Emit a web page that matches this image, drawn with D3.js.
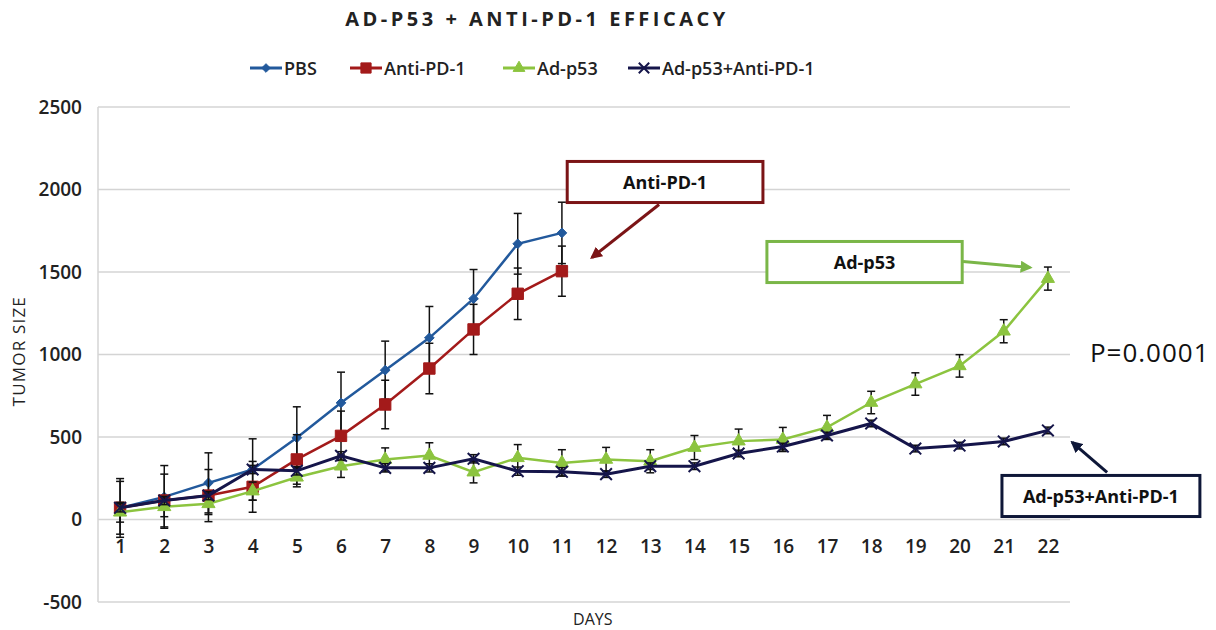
<!DOCTYPE html>
<html>
<head>
<meta charset="utf-8">
<script src="https://cdn.jsdelivr.net/npm/d3@7"></script>
<style>
  html, body { margin: 0; padding: 0; background: #fff; }
  svg { display: block; font-family: "Open Sans", sans-serif; }
</style>
</head>
<body>
<div id="chart"></div>
<script>
// Data
const days = d3.range(1, 23);
const yTicks = [-500, 0, 500, 1000, 1500, 2000, 2500];

const pbs = [70, 137, 222, 303, 495, 707, 905, 1101, 1338, 1671, 1737];
const pbsErr = [178, 190, 182, 186, 188, 186, 176, 190, 177, 184, 186];
const antiPD1 = [71, 115, 145, 198, 364, 507, 697, 915, 1152, 1368, 1505];
const antiErr = [160, 160, 158, 154, 150, 150, 147, 153, 152, 156, 152];
const adp53 = [44, 77, 95, 172, 256, 323, 364, 388, 287, 374, 343, 364, 353, 436, 475, 485, 558, 709, 821, 931, 1141, 1460];
const adp53Err = [60, 60, 65, 55, 58, 68, 70, 77, 65, 80, 80, 73, 70, 73, 73, 73, 73, 68, 68, 68, 70, 70];
const combo = [71, 115, 145, 303, 295, 386, 313, 313, 368, 293, 289, 275, 323, 323, 400, 442, 509, 582, 430, 448, 473, 540];
const comboErr = [25, 25, 25, 25, 25, 25, 25, 25, 25, 25, 25, 20, 20, 20, 20, 20, 20, 20, 20, 20, 20, 20];

const seriesNames = ["PBS", "Anti-PD-1", "Ad-p53", "Ad-p53+Anti-PD-1"];

// callout boxes, in day / tumor-size units
const callouts = [
  { label: "Anti-PD-1", box: [11.12, 15.55, 2170, 1921], from: [13.2, 1909], to: [11.68, 1588], color: "#7b1416" },
  { label: "Ad-p53", box: [15.64, 20.06, 1685, 1436], from: [20.08, 1564], to: [21.6, 1527], color: "#7ab648" },
  { label: "Ad-p53+Anti-PD-1", box: [20.96, 25.44, 267, 18], from: [23.34, 285], to: [22.55, 468], color: "#0e1738" }
];

const width = 1216, height = 630;
const margin = { left: 98, right: 146, top: 107, bottom: 28 };

const svg = d3.select("#chart").append("svg")
  .attr("width", width)
  .attr("height", height);

const x = d3.scaleLinear().domain([0.5, 22.5]).range([margin.left, width - margin.right]);
const y = d3.scaleLinear().domain([-500, 2500]).range([height - margin.bottom, margin.top]);

// gridlines
svg.append("g")
  .selectAll("line")
  .data(yTicks)
  .join("line")
  .attr("x1", x(0.5)).attr("x2", x(22.5))
  .attr("y1", d => y(d)).attr("y2", d => y(d))
  .attr("stroke", "#d4d4d4")
  .attr("stroke-width", 1.5);

svg.append("line")
  .attr("x1", x(0.5)).attr("x2", x(0.5))
  .attr("y1", y(2500)).attr("y2", y(-500))
  .attr("stroke", "#d4d4d4")
  .attr("stroke-width", 1.5);

// y axis
const yAxis = svg.append("g")
  .attr("transform", `translate(${x(0.5) - 16},0)`)
  .call(d3.axisLeft(y).tickValues(yTicks).tickFormat(d => String(d)).tickSize(0).tickPadding(0));
yAxis.select(".domain").remove();
yAxis.selectAll("text")
  .attr("font-size", 19)
  .attr("font-weight", 600)
  .attr("fill", "#222")
  .attr("font-family", "'Open Sans', sans-serif");

// x axis labels sit just under the zero line
const xAxis = svg.append("g")
  .attr("transform", `translate(0,${y(0) + 20})`)
  .call(d3.axisBottom(x).tickValues(days).tickFormat(d => String(d)).tickSize(0).tickPadding(0));
xAxis.select(".domain").remove();
xAxis.selectAll("text")
  .attr("font-size", 19)
  .attr("font-weight", 600)
  .attr("fill", "#222")
  .attr("font-family", "'Open Sans', sans-serif");

// axis titles
svg.append("text")
  .attr("transform", `translate(25,${y(1020)}) rotate(-90)`)
  .attr("text-anchor", "middle")
  .attr("font-size", 17)
  .attr("letter-spacing", 1.2)
  .attr("fill", "#222")
  .text("TUMOR SIZE");

svg.append("text")
  .attr("x", x(11.7))
  .attr("y", 625)
  .attr("text-anchor", "middle")
  .attr("font-size", 16)
  .attr("fill", "#222")
  .text("DAYS");

// title
svg.append("text")
  .attr("x", 537)
  .attr("y", 26)
  .attr("text-anchor", "middle")
  .attr("font-size", 20)
  .attr("font-weight", "bold")
  .attr("letter-spacing", 3.5)
  .attr("fill", "#222")
  .text("AD-P53 + ANTI-PD-1 EFFICACY");

const series = [
  { name: seriesNames[0], values: pbs, err: pbsErr, color: "#22599c", symbol: d3.symbolDiamond2, size: 60, filled: true },
  { name: seriesNames[1], values: antiPD1, err: antiErr, color: "#a31a1a", symbol: d3.symbolSquare, size: 130, filled: true },
  { name: seriesNames[2], values: adp53, err: adp53Err, color: "#8cc43f", symbol: d3.symbolTriangle, size: 75, filled: true },
  { name: seriesNames[3], values: combo, err: comboErr, color: "#15154a", symbol: d3.symbolTimes, size: 90, filled: false }
];

const line = d3.line()
  .x((d, i) => x(days[i]))
  .y(d => y(d));

series.forEach(s => {
  const g = svg.append("g");
  // error bars
  const eb = g.selectAll(".eb")
    .data(s.values)
    .join("g");
  eb.append("line")
    .attr("x1", (d, i) => x(days[i])).attr("x2", (d, i) => x(days[i]))
    .attr("y1", (d, i) => y(d - s.err[i])).attr("y2", (d, i) => y(d + s.err[i]))
    .attr("stroke", "#111").attr("stroke-width", 1.5);
  [-1, 1].forEach(sign => {
    eb.append("line")
      .attr("x1", (d, i) => x(days[i]) - 4).attr("x2", (d, i) => x(days[i]) + 4)
      .attr("y1", (d, i) => y(d + sign * s.err[i])).attr("y2", (d, i) => y(d + sign * s.err[i]))
      .attr("stroke", "#111").attr("stroke-width", 1.5);
  });

  g.append("path")
    .datum(s.values)
    .attr("d", line)
    .attr("fill", "none")
    .attr("stroke", s.color)
    .attr("stroke-width", s.name === "Ad-p53+Anti-PD-1" ? 3 : 2.5);

  g.selectAll(".pt")
    .data(s.values)
    .join("path")
    .attr("transform", (d, i) => `translate(${x(days[i])},${y(d)})`)
    .attr("d", d3.symbol(s.symbol, s.size))
    .attr("fill", s.filled ? s.color : "none")
    .attr("stroke", s.color)
    .attr("stroke-width", s.filled ? 1 : 2);
});

// legend
const legendX = [250, 350, 503, 628];
const legend = svg.append("g").attr("transform", "translate(0,68)");
series.forEach((s, i) => {
  const lg = legend.append("g").attr("transform", `translate(${legendX[i]},0)`);
  lg.append("line")
    .attr("x1", 0).attr("x2", 32)
    .attr("stroke", s.color).attr("stroke-width", 3);
  lg.append("path")
    .attr("transform", "translate(16,0)")
    .attr("d", d3.symbol(s.symbol, s.size * 0.8))
    .attr("fill", s.filled ? s.color : "none")
    .attr("stroke", s.color)
    .attr("stroke-width", s.filled ? 1 : 2);
  lg.append("text")
    .attr("x", 34)
    .attr("y", 7)
    .attr("font-size", 18)
    .attr("font-weight", 600)
    .attr("fill", "#222")
    .text(s.name);
});

// callouts
const defs = svg.append("defs");
callouts.forEach((c, i) => {
  defs.append("marker")
    .attr("id", "arrow" + i)
    .attr("viewBox", "0 0 10 10")
    .attr("refX", 8).attr("refY", 5)
    .attr("markerWidth", 4).attr("markerHeight", 4)
    .attr("orient", "auto")
    .append("path")
    .attr("d", "M0,0 L10,5 L0,10 z")
    .attr("fill", c.color);

  svg.append("line")
    .attr("x1", x(c.from[0])).attr("y1", y(c.from[1]))
    .attr("x2", x(c.to[0])).attr("y2", y(c.to[1]))
    .attr("stroke", c.color)
    .attr("stroke-width", 3)
    .attr("marker-end", `url(#arrow${i})`);

  svg.append("rect")
    .attr("x", x(c.box[0])).attr("y", y(c.box[2]))
    .attr("width", x(c.box[1]) - x(c.box[0]))
    .attr("height", y(c.box[3]) - y(c.box[2]))
    .attr("fill", "#fff")
    .attr("stroke", c.color)
    .attr("stroke-width", 3);

  svg.append("text")
    .attr("x", (x(c.box[0]) + x(c.box[1])) / 2)
    .attr("y", (y(c.box[2]) + y(c.box[3])) / 2 + 7)
    .attr("text-anchor", "middle")
    .attr("font-size", 18)
    .attr("font-weight", "bold")
    .attr("fill", "#111")
    .text(c.label);
});

svg.append("text")
  .attr("x", x(22.95))
  .attr("y", y(1012) + 9)
  .attr("font-size", 26)
  .attr("letter-spacing", 1)
  .attr("fill", "#111")
  .text("P=0.0001");
</script>
</body>
</html>
